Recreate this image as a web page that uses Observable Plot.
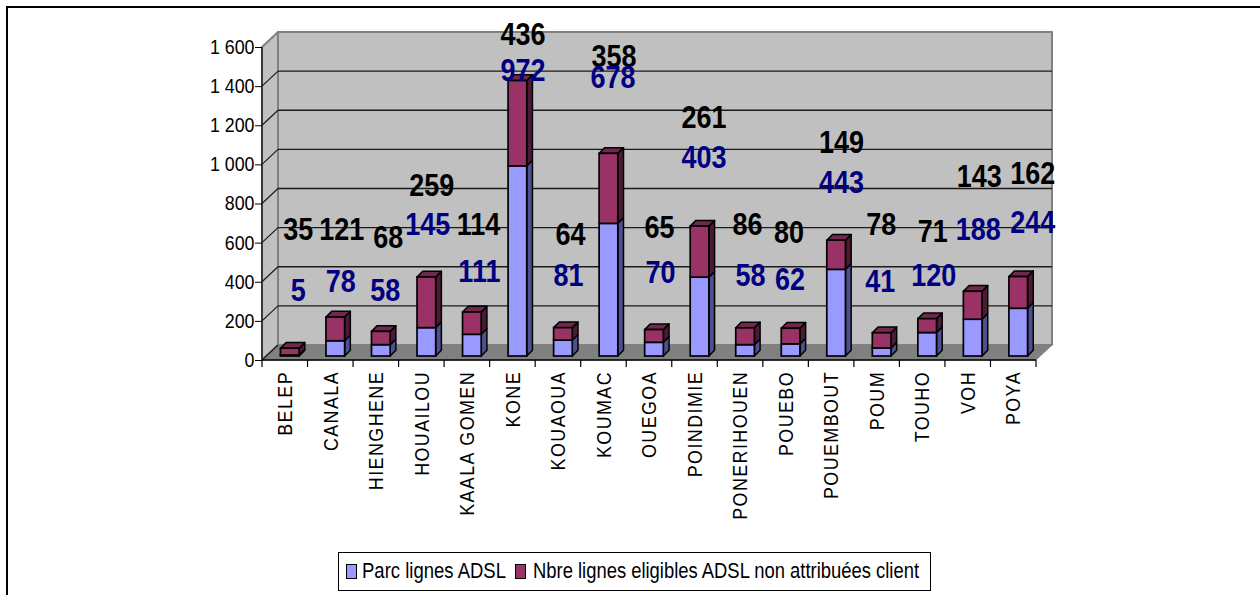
<!DOCTYPE html>
<html lang="fr">
<head>
<meta charset="utf-8">
<script src="https://cdn.jsdelivr.net/npm/d3@7"></script>
<script src="https://cdn.jsdelivr.net/npm/@observablehq/plot@0.6"></script>
<style>
  html, body { margin: 0; padding: 0; background: #fff; overflow: hidden; }
  body { width: 1260px; height: 595px; position: relative; font-family: "Liberation Sans", Arial, sans-serif; }
  #frame { position: absolute; left: 6px; top: 6px; right: 0; bottom: 0; border-left: 2px solid #000; border-top: 2px solid #000; pointer-events: none; }
  #chart { position: absolute; left: 0; top: 0; }
  #chart svg { display: block; background: transparent; overflow: visible; }
  #legend { position: absolute; left: 338px; top: 552px; width: 593px; height: 39px; box-sizing: border-box; border: 1px solid #000; background: #fff;
    font-size: 22px; line-height: 35px; color: #000; white-space: nowrap; }
  #legend .sw { position: absolute; top: 11px; width: 9px; height: 13px; border: 1px solid #000; }
  #legend .lb { position: absolute; top: 0; transform-origin: 0 50%; display: inline-block; }
</style>
</head>
<body>
<div id="frame"></div>
<div id="chart"></div>
<div id="legend"></div>
<script>
// Data
const communes = ["BELEP","CANALA","HIENGHENE","HOUAILOU","KAALA GOMEN","KONE","KOUAOUA","KOUMAC","OUEGOA","POINDIMIE","PONERIHOUEN","POUEBO","POUEMBOUT","POUM","TOUHO","VOH","POYA"];
const parcLignes = [5,78,58,145,111,972,81,678,70,403,58,62,443,41,120,188,244];
const nonAttribuees = [35,121,68,259,114,436,64,358,65,261,86,80,149,78,71,143,162];
const seriesNames = ["Parc lignes ADSL","Nbre lignes eligibles ADSL non attribuées client"];
const yTicks = [0,200,400,600,800,1000,1200,1400,1600];

// Manual placement of the value labels in the source chart (in axis units, and sideways nudges)
const parcLabelAt = [354,400,354,692,451,1477,431,1446,446,1036,431,410,908,400,431,667,703];
const nonLabelAt = [667,667,626,892,692,1662,641,1549,677,1241,692,651,1113,692,656,938,954];
const parcLabelNudge = [13,10,9,6,12,10,10,9,11,9,10,4,10,3,11,10,19];
const nonLabelNudge = [13,11,12,10,11,10,12,10,10,9,7,3,10,4,10,11,19];

// Styles
const BLUE = "#9999ff", MAROON = "#993366";
const sideCol = {[seriesNames[0]]: "#4f4f8f", [seriesNames[1]]: "#4d1a33"};
const TOP_COL = "#732650";
const wall = {dx: 16, dy: -15};
const bar = {dx: 5, dy: -4, depthX: 5.7, depthY: -5.7};

const rows = communes.flatMap((c, i) => [
  {commune: c, series: seriesNames[0], value: parcLignes[i]},
  {commune: c, series: seriesNames[1], value: nonAttribuees[i]}
]);
const fmt = d => d3.format(",")(d).replace(/,/g, " ");
const poly = (g, pts, fill, stroke, w) => g.append("polygon")
  .attr("points", pts.map(p => p.join(",")).join(" "))
  .attr("fill", fill).attr("stroke", stroke).attr("stroke-width", w).attr("stroke-linejoin", "round");

// Walls, floor and receding gridlines, placed from the chart's own scales
function walls(index, {x, y}, values, {marginLeft, width, marginRight}) {
  const g = d3.create("svg:g").attr("aria-label", "walls");
  const l = marginLeft, r = width - marginRight, y0 = y(0), y1 = y(1600), {dx, dy} = wall;
  poly(g, [[l+dx,y1+dy],[r+dx,y1+dy],[r+dx,y0+dy],[l+dx,y0+dy]], "#c0c0c0", "#808080", 2);
  poly(g, [[l,y0],[l+dx,y0+dy],[l+dx,y1+dy],[l,y1]], "#c0c0c0", "#808080", 2);
  poly(g, [[l,y0],[r,y0],[r+dx,y0+dy],[l+dx,y0+dy]], "#808080", "#808080", 1);
  for (const t of yTicks) {
    if (t > 0 && t < 1600) g.append("line").attr("x1", l+dx).attr("x2", r+dx).attr("y1", y(t)+dy).attr("y2", y(t)+dy).attr("stroke", "#1a1a1a").attr("stroke-width", 1.4);
    if (t < 1600) g.append("line").attr("x1", l).attr("x2", l+dx).attr("y1", y(t)).attr("y2", y(t)+dy).attr("stroke", "#1a1a1a").attr("stroke-width", 1.2);
  }
  g.append("line").attr("x1", l).attr("x2", r).attr("y1", y0).attr("y2", y0).attr("stroke", "#000").attr("stroke-width", 1.5);
  g.append("line").attr("x1", l).attr("x2", l).attr("y1", y1).attr("y2", y0).attr("stroke", "#222").attr("stroke-width", 1.5);
  return g.node();
}

// Category separators under the axis
function sepTicks(index, {x, y}) {
  const g = d3.create("svg:g").attr("aria-label", "separators");
  const step = x.step(), off = (step - x.bandwidth()) / 2;
  communes.concat([null]).forEach((c, i) => {
    const px = c ? x(c) - off : x(communes[i-1]) - off + step;
    g.append("line").attr("x1", px).attr("x2", px).attr("y1", y(0)).attr("y2", y(0)+7).attr("stroke", "#000").attr("stroke-width", 1.2);
  });
  return g.node();
}

// Side and top faces of the stacked columns
function faces(index, {x, y}) {
  const g = d3.create("svg:g").attr("aria-label", "bar faces");
  const w = x.bandwidth(), {dx, dy, depthX: px, depthY: py} = bar;
  communes.forEach((c, i) => {
    const x2 = x(c) + w + dx, x1 = x(c) + dx;
    const a = y(0) + dy, b = y(parcLignes[i]) + dy, t = y(parcLignes[i] + nonAttribuees[i]) + dy;
    poly(g, [[x2,a],[x2+px,a+py],[x2+px,b+py],[x2,b]], sideCol[seriesNames[0]], "#000", 1.5);
    poly(g, [[x2,b],[x2+px,b+py],[x2+px,t+py],[x2,t]], sideCol[seriesNames[1]], "#000", 1.5);
    poly(g, [[x1,t],[x2,t],[x2+px,t+py],[x1+px,t+py]], TOP_COL, "#000", 1.5);
  });
  return g.node();
}

const labelRows = (vals, at, nudge) => vals.map((v, i) => ({commune: communes[i], v, at: at[i], dx: nudge[i]}));
const labelMarks = (list, fill) => list.map(d => Plot.text([d], {
  x: "commune", y: "at", text: d => String(d.v), dx: d.dx, fill,
  fontSize: 31, fontWeight: "bold", fontFamily: "Liberation Sans, Arial, sans-serif",
  textAnchor: "middle", lineAnchor: "middle"
}));

const plot = Plot.plot({
  width: 1260, height: 552,
  marginLeft: 262, marginRight: 224, marginTop: 47, marginBottom: 192,
  style: {fontFamily: "Liberation Sans, Arial, sans-serif", color: "#000", background: "transparent", overflow: "visible"},
  x: {domain: communes, paddingInner: 0.59, paddingOuter: 0.295, round: false, align: 0.5, label: null},
  y: {domain: [0, 1600], label: null},
  color: {domain: seriesNames, range: [BLUE, MAROON]},
  marks: [
    walls,
    Plot.axisY({ticks: yTicks, tickFormat: fmt, tickSize: 7, tickPadding: 1, fontSize: 20, label: null, stroke: "#000"}),
    Plot.axisX({tickSize: 0, tickRotate: -90, tickPadding: 10.5, fontSize: 21, label: null, textAnchor: "end"}),
    sepTicks,
    faces,
    Plot.barY(rows, {x: "commune", y: "value", fill: "series", order: seriesNames, stroke: "#000", strokeWidth: 1.7, dx: bar.dx, dy: bar.dy}),
    ...labelMarks(labelRows(nonAttribuees, nonLabelAt, nonLabelNudge), "#000"),
    ...labelMarks(labelRows(parcLignes, parcLabelAt, parcLabelNudge), "#000080")
  ]
});
document.getElementById("chart").append(plot);

// The source chart's text is horizontally condensed
const condense = (selector, k, spacing = 0) => plot.querySelectorAll(selector).forEach(t => {
  if (spacing) t.style.letterSpacing = spacing + "px";
  const len = t.getComputedTextLength();
  t.setAttribute("textLength", len * k);
  t.setAttribute("lengthAdjust", "spacingAndGlyphs");
});
condense('g[font-weight="bold"] text', 0.87);
condense('g[aria-label^="y-axis"] text', 0.89);
condense('g[aria-label^="x-axis"] text', 0.85, 1.7);

// Legend below the plot
const legend = d3.select("#legend");
const colors = [BLUE, MAROON];
const spots = [{sw: 7, lb: 23, w: 144}, {sw: 176, lb: 194, w: 386}];
seriesNames.forEach((s, i) => {
  legend.append("span").attr("class", "sw").style("left", spots[i].sw + "px").style("background", colors[i]);
  const lb = legend.append("span").attr("class", "lb").style("left", spots[i].lb + "px").text(s);
  lb.style("transform", `scaleX(${spots[i].w / lb.node().getBoundingClientRect().width})`);
});
</script>
</body>
</html>
